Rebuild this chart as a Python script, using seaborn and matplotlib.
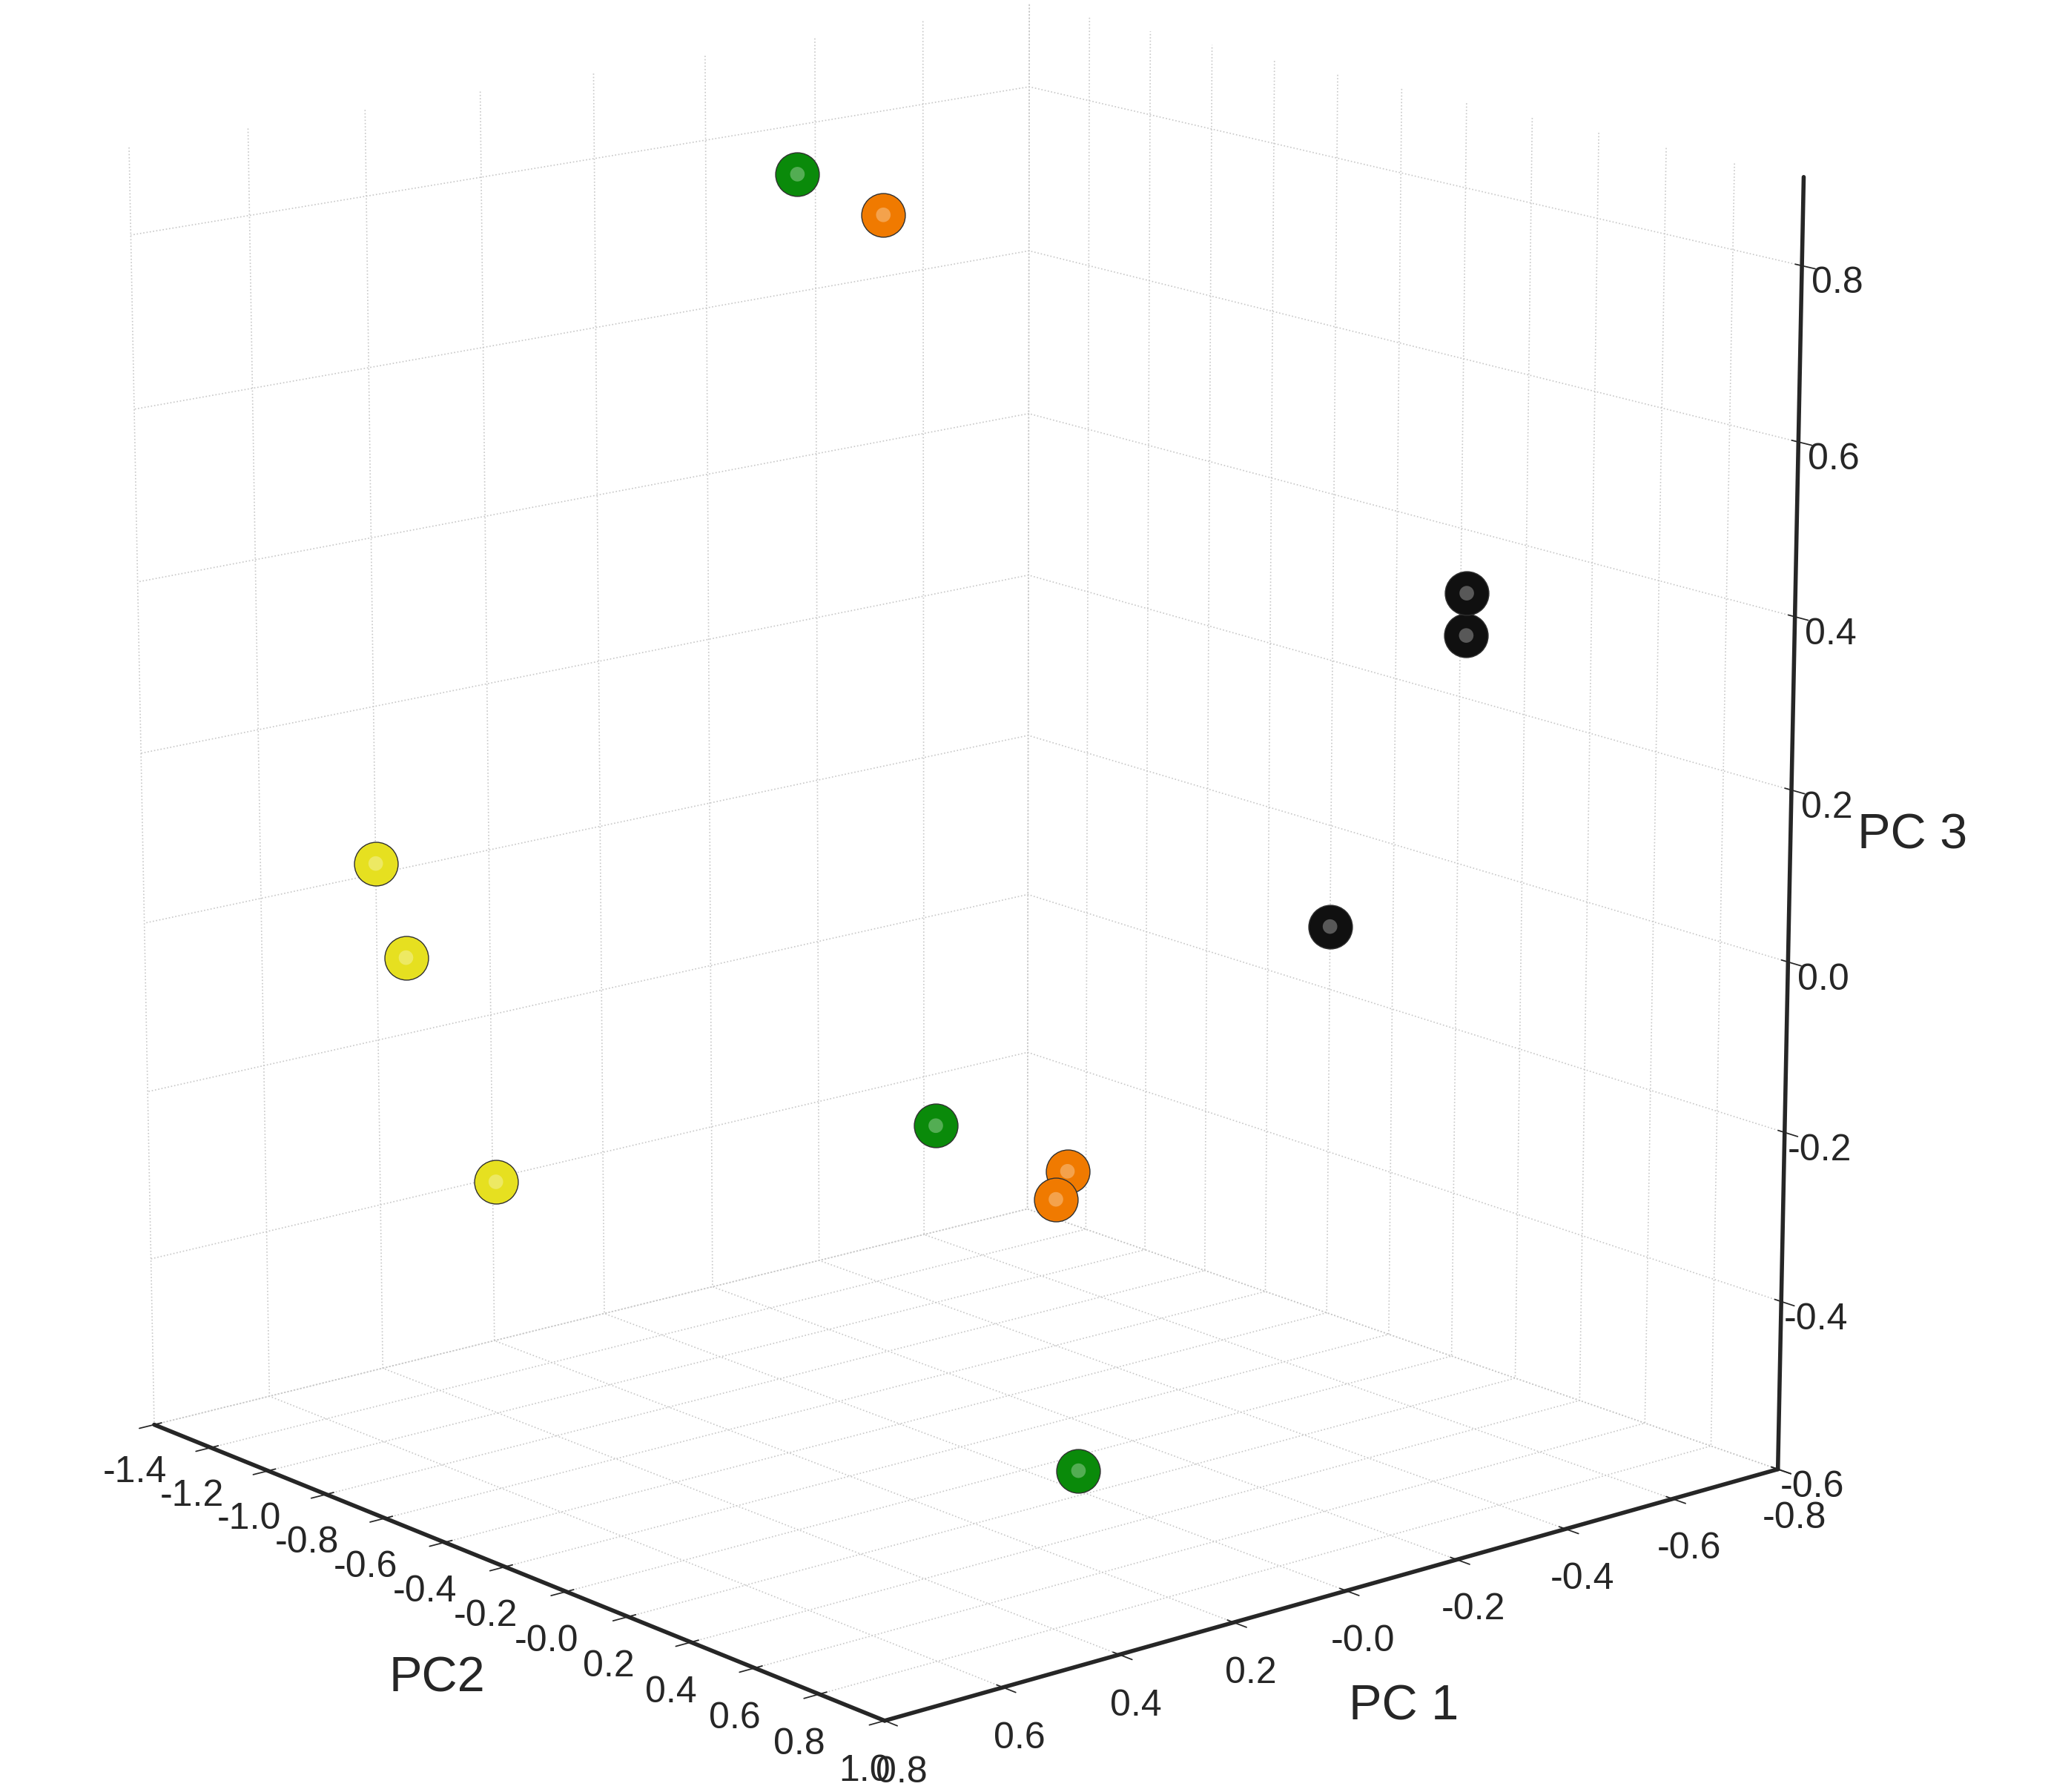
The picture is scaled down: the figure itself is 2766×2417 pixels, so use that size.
import numpy as np
import matplotlib.pyplot as plt
import seaborn as sns

# PCA scores (estimated)
groups = ['black', 'green', 'orange', 'yellow']
colors = {'black': '#101010', 'green': '#0a8a0a', 'orange': '#f07a00', 'yellow': '#e6e020'}
pc1 = {'black': [-0.75, -0.75, -0.5],
       'green': [-0.15, -0.4, 0.3],
       'orange': [-0.25, -0.45, -0.4],
       'yellow': [0.5, 0.5, 0.45]}
pc2 = {'black': [0.1, 0.1, 0.1],
       'green': [-1.0, -1.0, 0.7],
       'orange': [-0.9, -0.65, -0.6],
       'yellow': [-1.2, -1.1, -0.9]}
pc3 = {'black': [0.34, 0.29, -0.02],
       'green': [0.8, -0.38, -0.45],
       'orange': [0.75, -0.4, -0.42],
       'yellow': [0.05, -0.05, -0.3]}

sns.set_theme(style='white')
plt.rcParams['font.family'] = ['Arial', 'Liberation Sans', 'DejaVu Sans']

fig = plt.figure(figsize=(27.66, 24.17), dpi=100)
ax = fig.add_subplot(111, projection='3d')
ax.set_position([-0.155, -0.045, 1.22, 1.15])

for g in groups:
    ax.scatter(pc2[g], pc1[g], pc3[g], s=1800, c=colors[g], edgecolors='#303030',
               linewidths=1, depthshade=False, alpha=1)
    # small highlight to mimic the shaded balls
    ax.scatter(pc2[g], pc1[g], pc3[g], s=200, c='white', alpha=0.3,
               edgecolors='none', depthshade=False)

ax.set_xlim(-1.4, 1.0)
ax.set_ylim(0.8, -0.8)
ax.set_zlim(-0.6, 0.9)
ax.set_xticks(np.arange(-1.4, 1.01, 0.2))
ax.set_yticks(np.arange(-0.8, 0.81, 0.2))
ax.set_zticks(np.arange(-0.6, 0.81, 0.2))
ax.set_xticklabels([f'{v:.1f}' for v in np.arange(-1.4, 1.01, 0.2)])
ax.set_yticklabels([f'{v:.1f}' for v in np.arange(-0.8, 0.81, 0.2)])
ax.set_zticklabels([f'{v:.1f}' for v in np.arange(-0.6, 0.81, 0.2)])
ax.tick_params(labelsize=36, pad=14)

ax.set_xlabel('PC2', fontsize=48, labelpad=55)
ax.set_ylabel('PC 1', fontsize=48, labelpad=55)
ax.set_zlabel('PC 3', fontsize=48, labelpad=55)

for a in (ax.xaxis, ax.yaxis, ax.zaxis):
    a.set_pane_color((1, 1, 1, 0))
    a.pane.set_edgecolor('black')
    a.pane.set_linewidth(1.5)
    a._axinfo['grid']['color'] = '#c8c8c8'
    a._axinfo['grid']['linestyle'] = ':'
    a._axinfo['grid']['linewidth'] = 1.2
    a.line.set_linewidth(4)

ax.view_init(elev=15, azim=-40)
ax.set_box_aspect((1.1, 1.1, 1.25))

fig.savefig('out.png', dpi=100)
